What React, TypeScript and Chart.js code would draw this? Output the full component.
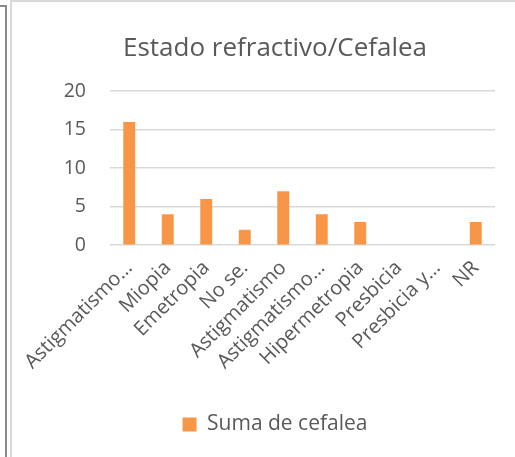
import React, { useEffect, useRef } from "react";
import { Chart, registerables } from "chart.js";

Chart.register(...registerables);

const categories = [
  "Astigmatismo…",
  "Miopia",
  "Emetropia",
  "No se.",
  "Astigmatismo",
  "Astigmatismo…",
  "Hipermetropia",
  "Presbicia",
  "Presbicia y…",
  "NR",
];
const cefaleaValues = [16, 4, 6, 2, 7, 4, 3, 0, 0, 3];
const yTicks = [0, 5, 10, 15, 20];
const seriesName = "Suma de cefalea";
const chartTitle = "Estado refractivo/Cefalea";

export default function App() {
  const ref = useRef<HTMLCanvasElement>(null);
  useEffect(() => {
    if (!ref.current) return;
    const font = "'Open Sans', Lato, sans-serif";
    const chart = new Chart(ref.current, {
      type: "bar",
      data: {
        labels: categories,
        datasets: [
          {
            label: seriesName,
            data: cefaleaValues,
            backgroundColor: "#F79646",
            borderWidth: 0,
            barPercentage: 0.62,
            categoryPercentage: 0.5,
          },
        ],
      },
      options: {
        responsive: false,
        animation: false,
        maintainAspectRatio: false,
        layout: { padding: { left: 43, right: 20, top: 31, bottom: 12 } },
        plugins: {
          title: {
            display: true,
            text: chartTitle,
            color: "#595959",
            font: { family: font, size: 26, weight: "normal" },
            padding: { top: 0, bottom: 27 },
          },
          legend: {
            display: true,
            position: "bottom",
            labels: {
              color: "#595959",
              font: { family: font, size: 21 },
              boxWidth: 14,
              boxHeight: 14,
              padding: 37,
            },
          },
          tooltip: { enabled: false },
        },
        scales: {
          x: {
            grid: { display: false },
            border: { display: false },
            ticks: {
              color: "#595959",
              font: { family: font, size: 20 },
              maxRotation: 45,
              minRotation: 45,
              autoSkip: false,
              padding: 3,
            },
          },
          y: {
            min: 0,
            max: 20,
            afterBuildTicks: (axis: any) => {
              axis.ticks = yTicks.map((v) => ({ value: v }));
            },
            afterFit: (axis: any) => {
              axis.width = 55;
            },
            grid: { color: "#d9d9d9", lineWidth: 1.5, drawTicks: false },
            border: { display: false },
            ticks: {
              color: "#595959",
              font: { family: font, size: 19.5 },
              padding: 24,
            },
          },
        },
      },
    });
    return () => chart.destroy();
  }, []);
  return (
    <div style={{ position: "fixed", left: 0, top: 0, width: 515, height: 457, background: "#fff" }}>
      <div style={{ position: "absolute", left: 0, top: 5, width: 7, height: 452, borderTop: "2px solid #8a8a8a", borderRight: "2px solid #8a8a8a", boxSizing: "border-box" }} />
      <div style={{ position: "absolute", left: 10, top: 0, width: 505, height: 457, borderTop: "2px solid #d9d9d9", borderLeft: "2px solid #d9d9d9", boxSizing: "border-box" }} />
      <canvas ref={ref} width={503} height={455} style={{ position: "absolute", left: 12, top: 2 }} />
    </div>
  );
}
